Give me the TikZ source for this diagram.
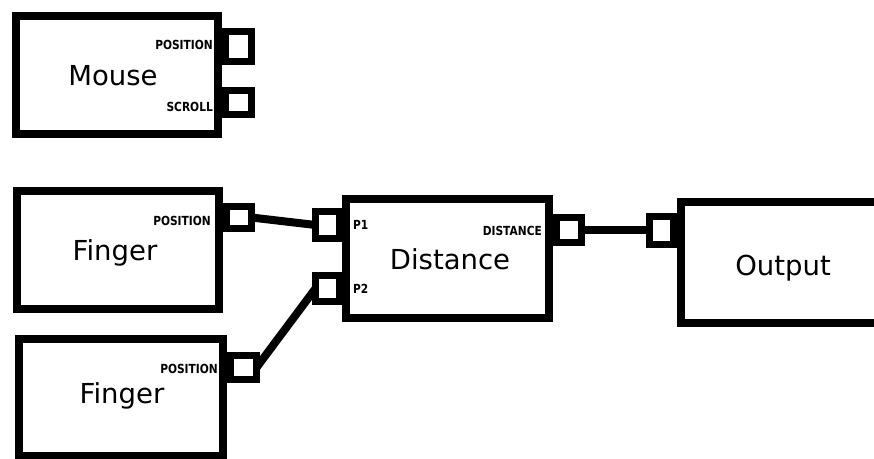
\documentclass[tikz,border=0pt]{standalone}
\usepackage{fontspec}
\setmainfont{DejaVu Sans}
\newfontfamily\blkfont{DejaVu Sans}
\newfontfamily\lblfont{DejaVu Sans}[FakeStretch=0.85]
\begin{document}
\begin{tikzpicture}[x=1pt,y=-1pt,
  blk/.style={draw, line width=8pt, rectangle, outer sep=0pt, inner sep=0pt},
  port/.style={draw, line width=7pt, rectangle, outer sep=0pt, inner sep=0pt},
  boxtext/.style={font=\blkfont\fontsize{27.5}{30}\selectfont, inner sep=0pt, anchor=base},
  lbl/.style={font=\lblfont\bfseries\fontsize{12.5}{14}\selectfont, inner sep=0pt},
  wire/.style={line width=8pt}]
\useasboundingbox (0,0) rectangle (874,458);
% Mouse
\node[blk, minimum width=202pt, minimum height=118pt] (mouse) at (117,75) {};
\node[port, minimum width=26pt, minimum height=30pt] (mpos) at (238.5,46.5) {};
\node[port, minimum width=26pt, minimum height=24pt] (mscr) at (238.5,102.5) {};
\node[boxtext] (mouset) at (113,85) {Mouse};
\node[lbl, anchor=east] (mposl) at (213,45) {POSITION};
\node[lbl, anchor=east] (mscrl) at (213,107) {SCROLL};
% Finger 1
\node[blk, minimum width=202pt, minimum height=118pt] (f1) at (118,250) {};
\node[port, minimum width=25pt, minimum height=22pt] (f1p) at (239,217.5) {};
\node[boxtext] (f1t) at (115,260) {Finger};
\node[lbl, anchor=east] (f1l) at (211,221) {POSITION};
% Finger 2
\node[blk, minimum width=204pt, minimum height=117pt] (f2) at (121,397.5) {};
\node[port, minimum width=26pt, minimum height=24pt] (f2p) at (243.5,367.5) {};
\node[boxtext] (f2t) at (122,403) {Finger};
\node[lbl, anchor=east] (f2l) at (218,369) {POSITION};
% Distance
\node[blk, minimum width=203pt, minimum height=119pt] (dist) at (447.5,258.5) {};
\node[port, minimum width=24pt, minimum height=27pt] (p1) at (327.5,225) {};
\node[port, minimum width=24pt, minimum height=26pt] (p2) at (327.5,288.5) {};
\node[port, minimum width=25pt, minimum height=25pt] (dout) at (569,230) {};
\node[boxtext] (distt) at (450,269) {Distance};
\node[lbl, anchor=west] (p1l) at (353,225) {P1};
\node[lbl, anchor=west] (p2l) at (353,289) {P2};
\node[lbl, anchor=east] (doutl) at (542,231) {DISTANCE};
% Output
\node[blk, minimum width=210pt, minimum height=121pt] (out) at (785.5,262.5) {};
\node[port, minimum width=24pt, minimum height=28pt] (oin) at (661.5,230) {};
\node[boxtext] (outt) at (783,275) {Output};
% wires
\draw[wire] (f1p.east) -- (p1.west);
\draw[wire] (f2p.east) -- (p2.west);
\draw[wire] (dout.east) -- (oin.west);
\end{tikzpicture}
\end{document}
